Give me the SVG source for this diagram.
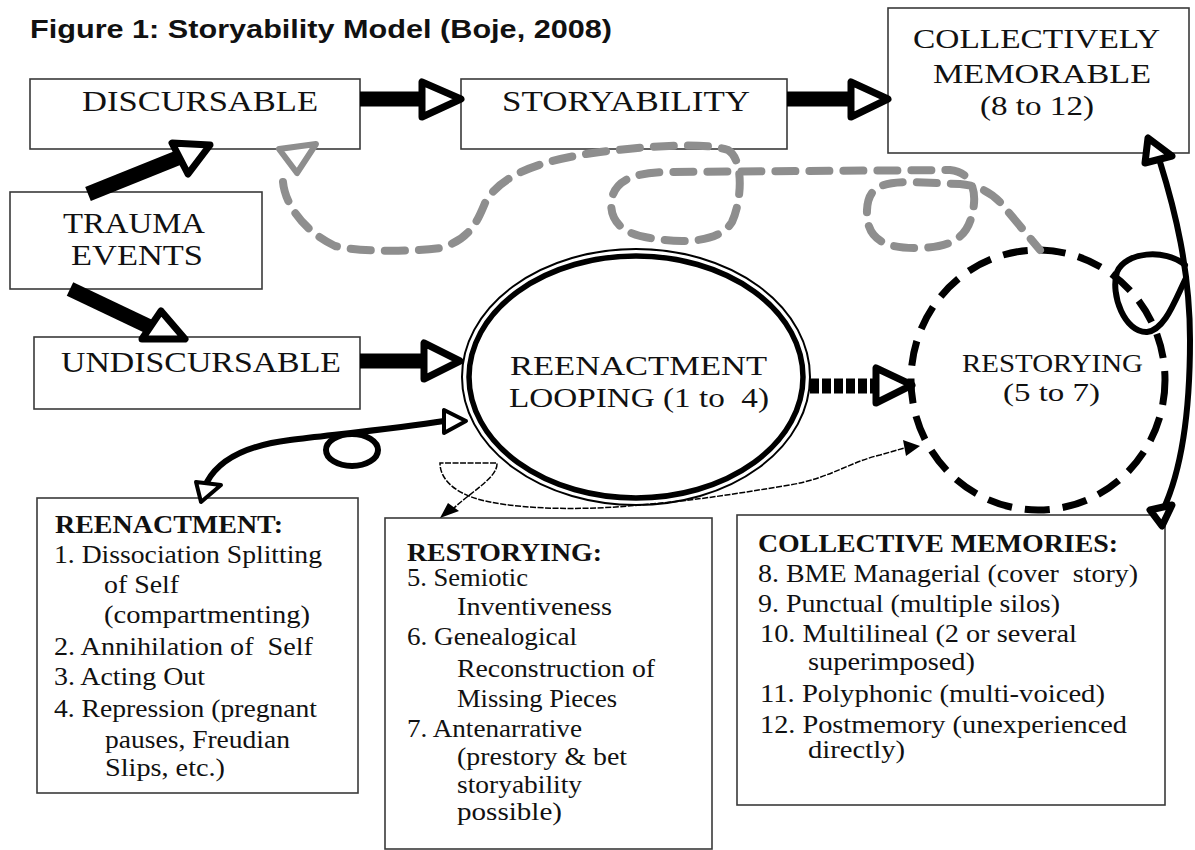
<svg xmlns="http://www.w3.org/2000/svg" width="1195" height="850" viewBox="0 0 1195 850">
<style>
.bg{fill:#fff}
.box{fill:#fff;stroke:#3a3a3a;stroke-width:1.6}
.t{font-family:"Liberation Serif","Times New Roman",serif;fill:#111}
.big{font-size:30px}
.med{font-size:28px}
.sm{font-size:25px}
.lst{font-size:25px}
.hd{font-weight:bold}
.title{font-family:"Liberation Sans",Arial,sans-serif;font-weight:bold;font-size:25px;fill:#111}
.shaft{stroke:#000;stroke-width:15;fill:none}
.head{fill:#fff;stroke:#000;stroke-width:7;stroke-linejoin:round}
.grey{stroke:#8e8e8e;stroke-width:8;fill:none;stroke-dasharray:20 14;stroke-linecap:round}
.greyhead{fill:#fff;stroke:#8e8e8e;stroke-width:6;stroke-linejoin:round}
.curve{stroke:#000;stroke-width:6;fill:none;stroke-linecap:round}
.shead{fill:#fff;stroke:#000;stroke-width:4;stroke-linejoin:round}
.thin{stroke:#000;stroke-width:1.5;fill:none;stroke-dasharray:6 1.5}
</style>
<rect class="bg" x="0" y="0" width="1195" height="850"/>
<text class="title" x="30" y="38" textLength="582" lengthAdjust="spacingAndGlyphs">Figure 1: Storyability Model (Boje, 2008)</text>

<g id="n-discursable">
<rect class="box" x="30" y="79" width="330" height="70"/>
<text class="t big" x="82" y="111" textLength="236" lengthAdjust="spacingAndGlyphs">DISCURSABLE</text>
</g>
<g id="n-storyability">
<rect class="box" x="461" y="79" width="326" height="70"/>
<text class="t big" x="502" y="111" textLength="248" lengthAdjust="spacingAndGlyphs">STORYABILITY</text>
</g>
<g id="n-collectively-memorable">
<rect class="box" x="888" y="8" width="301" height="145"/>
<text class="t med" x="913" y="48" textLength="247" lengthAdjust="spacingAndGlyphs">COLLECTIVELY</text>
<text class="t med" x="933" y="83" textLength="218" lengthAdjust="spacingAndGlyphs">MEMORABLE</text>
<text class="t med" x="980" y="115" textLength="114" lengthAdjust="spacingAndGlyphs">(8 to 12)</text>
</g>
<g id="n-trauma-events">
<rect class="box" x="10" y="192" width="252" height="97"/>
<text class="t big" x="63" y="233" textLength="142" lengthAdjust="spacingAndGlyphs">TRAUMA</text>
<text class="t big" x="71" y="265" textLength="132" lengthAdjust="spacingAndGlyphs">EVENTS</text>
</g>
<g id="n-undiscursable">
<rect class="box" x="34" y="337" width="326" height="72"/>
<text class="t big" x="61" y="372" textLength="280" lengthAdjust="spacingAndGlyphs">UNDISCURSABLE</text>
</g>
<g id="n-reenactment-looping">
<ellipse cx="636" cy="377" rx="174" ry="128" fill="#fff" stroke="#000" stroke-width="2"/>
<ellipse cx="636" cy="377" rx="167" ry="121" fill="none" stroke="#000" stroke-width="5.5"/>
<text class="t med" x="510" y="375" textLength="257" lengthAdjust="spacingAndGlyphs">REENACTMENT</text>
<text class="t med" x="509" y="407" textLength="260" lengthAdjust="spacingAndGlyphs" xml:space="preserve">LOOPING (1 to  4)</text>
</g>
<g id="n-restorying">
<ellipse cx="1038" cy="380" rx="127" ry="130" fill="#fff" stroke="#000" stroke-width="7" stroke-dasharray="25 13"/>
<text class="t sm" x="962" y="372" textLength="181" lengthAdjust="spacingAndGlyphs">RESTORYING</text>
<text class="t sm" x="1003" y="401" textLength="97" lengthAdjust="spacingAndGlyphs">(5 to 7)</text>
</g>
<g id="n-reenactment-list">
<rect class="box" x="37" y="498" width="321" height="295"/>
<text class="t lst hd" x="55" y="533" textLength="228" lengthAdjust="spacingAndGlyphs">REENACTMENT:</text>
<text class="t lst" x="54" y="563" textLength="268" lengthAdjust="spacingAndGlyphs">1. Dissociation Splitting</text>
<text class="t lst" x="104" y="593" textLength="75" lengthAdjust="spacingAndGlyphs">of Self</text>
<text class="t lst" x="104" y="623" textLength="206" lengthAdjust="spacingAndGlyphs">(compartmenting)</text>
<text class="t lst" x="54" y="655" textLength="259" lengthAdjust="spacingAndGlyphs" xml:space="preserve">2. Annihilation of  Self</text>
<text class="t lst" x="54" y="685" textLength="151" lengthAdjust="spacingAndGlyphs">3. Acting Out</text>
<text class="t lst" x="54" y="717" textLength="263" lengthAdjust="spacingAndGlyphs">4. Repression (pregnant</text>
<text class="t lst" x="105" y="748" textLength="185" lengthAdjust="spacingAndGlyphs">pauses, Freudian</text>
<text class="t lst" x="105" y="776" textLength="120" lengthAdjust="spacingAndGlyphs">Slips, etc.)</text>
</g>
<g id="n-restorying-list">
<rect class="box" x="385" y="518" width="327" height="331"/>
<text class="t lst hd" x="407" y="561" textLength="195" lengthAdjust="spacingAndGlyphs">RESTORYING:</text>
<text class="t lst" x="407" y="586" textLength="121" lengthAdjust="spacingAndGlyphs">5. Semiotic</text>
<text class="t lst" x="457" y="615" textLength="155" lengthAdjust="spacingAndGlyphs">Inventiveness</text>
<text class="t lst" x="407" y="645" textLength="170" lengthAdjust="spacingAndGlyphs">6. Genealogical</text>
<text class="t lst" x="457" y="677" textLength="198" lengthAdjust="spacingAndGlyphs">Reconstruction of</text>
<text class="t lst" x="457" y="707" textLength="160" lengthAdjust="spacingAndGlyphs">Missing Pieces</text>
<text class="t lst" x="407" y="737" textLength="175" lengthAdjust="spacingAndGlyphs">7. Antenarrative</text>
<text class="t lst" x="457" y="765" textLength="170" lengthAdjust="spacingAndGlyphs">(prestory &amp; bet</text>
<text class="t lst" x="457" y="793" textLength="125" lengthAdjust="spacingAndGlyphs">storyability</text>
<text class="t lst" x="457" y="820" textLength="105" lengthAdjust="spacingAndGlyphs">possible)</text>
</g>
<g id="n-collective-memories">
<rect class="box" x="737" y="515" width="428" height="290"/>
<text class="t lst hd" x="758" y="552" textLength="360" lengthAdjust="spacingAndGlyphs">COLLECTIVE MEMORIES:</text>
<text class="t lst" x="758" y="582" textLength="380" lengthAdjust="spacingAndGlyphs" xml:space="preserve">8. BME Managerial (cover  story)</text>
<text class="t lst" x="758" y="612" textLength="302" lengthAdjust="spacingAndGlyphs">9. Punctual (multiple silos)</text>
<text class="t lst" x="760" y="642" textLength="317" lengthAdjust="spacingAndGlyphs">10. Multilineal (2 or several</text>
<text class="t lst" x="808" y="670" textLength="167" lengthAdjust="spacingAndGlyphs">superimposed)</text>
<text class="t lst" x="760" y="702" textLength="345" lengthAdjust="spacingAndGlyphs">11. Polyphonic (multi-voiced)</text>
<text class="t lst" x="760" y="733" textLength="367" lengthAdjust="spacingAndGlyphs">12. Postmemory (unexperienced</text>
<text class="t lst" x="808" y="758" textLength="97" lengthAdjust="spacingAndGlyphs">directly)</text>
</g>

<g id="connectors">
<!-- trauma to discursable -->
<path class="shaft" d="M88,194 L180,157"/>
<polygon class="head" points="172,143 210,145 188,174"/>
<!-- trauma to undiscursable -->
<path class="shaft" d="M70,289 L152,328"/>
<polygon class="head" points="142,339 161,311 185,339"/>
<!-- discursable to storyability -->
<path class="shaft" d="M360,99 L425,99"/>
<polygon class="head" points="422,82 422,117 461,99"/>
<!-- storyability to collectively memorable -->
<path class="shaft" d="M787,99 L853,99"/>
<polygon class="head" points="851,82 851,117 888,99"/>
<!-- undiscursable to reenactment looping -->
<path class="shaft" d="M360,361 L426,361"/>
<polygon class="head" points="424,343 424,379 460,361"/>
<!-- reenactment looping to restorying (dotted) -->
<path class="shaft" d="M810,386 L878,386" stroke-dasharray="9 3" stroke-width="14"/>
<polygon class="head" points="876,368 876,403 912,385"/>
<!-- grey dashed feedback from restorying to discursable -->
<path class="grey" d="M283,182 C285,205 305,232 335,246 C360,252 410,252 440,248 C470,240 478,220 485,203 C500,175 540,160 600,152 C650,146 705,142 728,150 C744,160 742,200 732,222 C720,242 685,244 650,238 C620,234 608,218 612,198 C616,180 635,172 670,172 L950,170 C972,172 978,192 972,215 C966,240 948,248 915,248 C880,248 866,236 867,210 C868,188 880,182 910,182 L960,184 C982,186 995,195 1005,208 L1040,250"/>
<polygon class="greyhead" points="279,149 316,144 297,173"/>
<!-- curvy arrow between reenactment looping and reenactment list -->
<path class="curve" d="M207,482 C220,458 250,445 290,440 C340,434 400,428 444,421"/>
<ellipse cx="352" cy="450" rx="26" ry="16" class="curve"/>
<polygon class="shead" points="444,410 444,433 466,421"/>
<polygon class="shead" points="196,482 221,485 201,502"/>
<!-- thin line from restorying circle to restorying list -->
<path class="thin" d="M452,510 C470,492 498,478 497,463 L440,463 C440,483 462,497 490,502 C530,510 590,510 640,505 C700,500 740,493 790,485 C830,478 850,462 880,455 L908,447"/>
<polygon points="440,518 448,503 459,511" fill="#000"/>
<polygon points="903,440 906,456 920,446" fill="#000"/>
<!-- big curve between collective memories and collectively memorable -->
<path class="curve" d="M1160,162 C1175,210 1190,270 1190,340 C1190,420 1180,475 1162,512"/>
<path class="curve" d="M1185,265 C1165,248 1125,252 1117,272 C1110,295 1125,333 1147,332 C1165,330 1175,300 1186,278"/>
<polygon class="head" points="1148,138 1145,163 1172,156" stroke-width="5"/>
<polygon class="head" points="1150,510 1172,505 1162,526" stroke-width="5"/>
</g>
</svg>
